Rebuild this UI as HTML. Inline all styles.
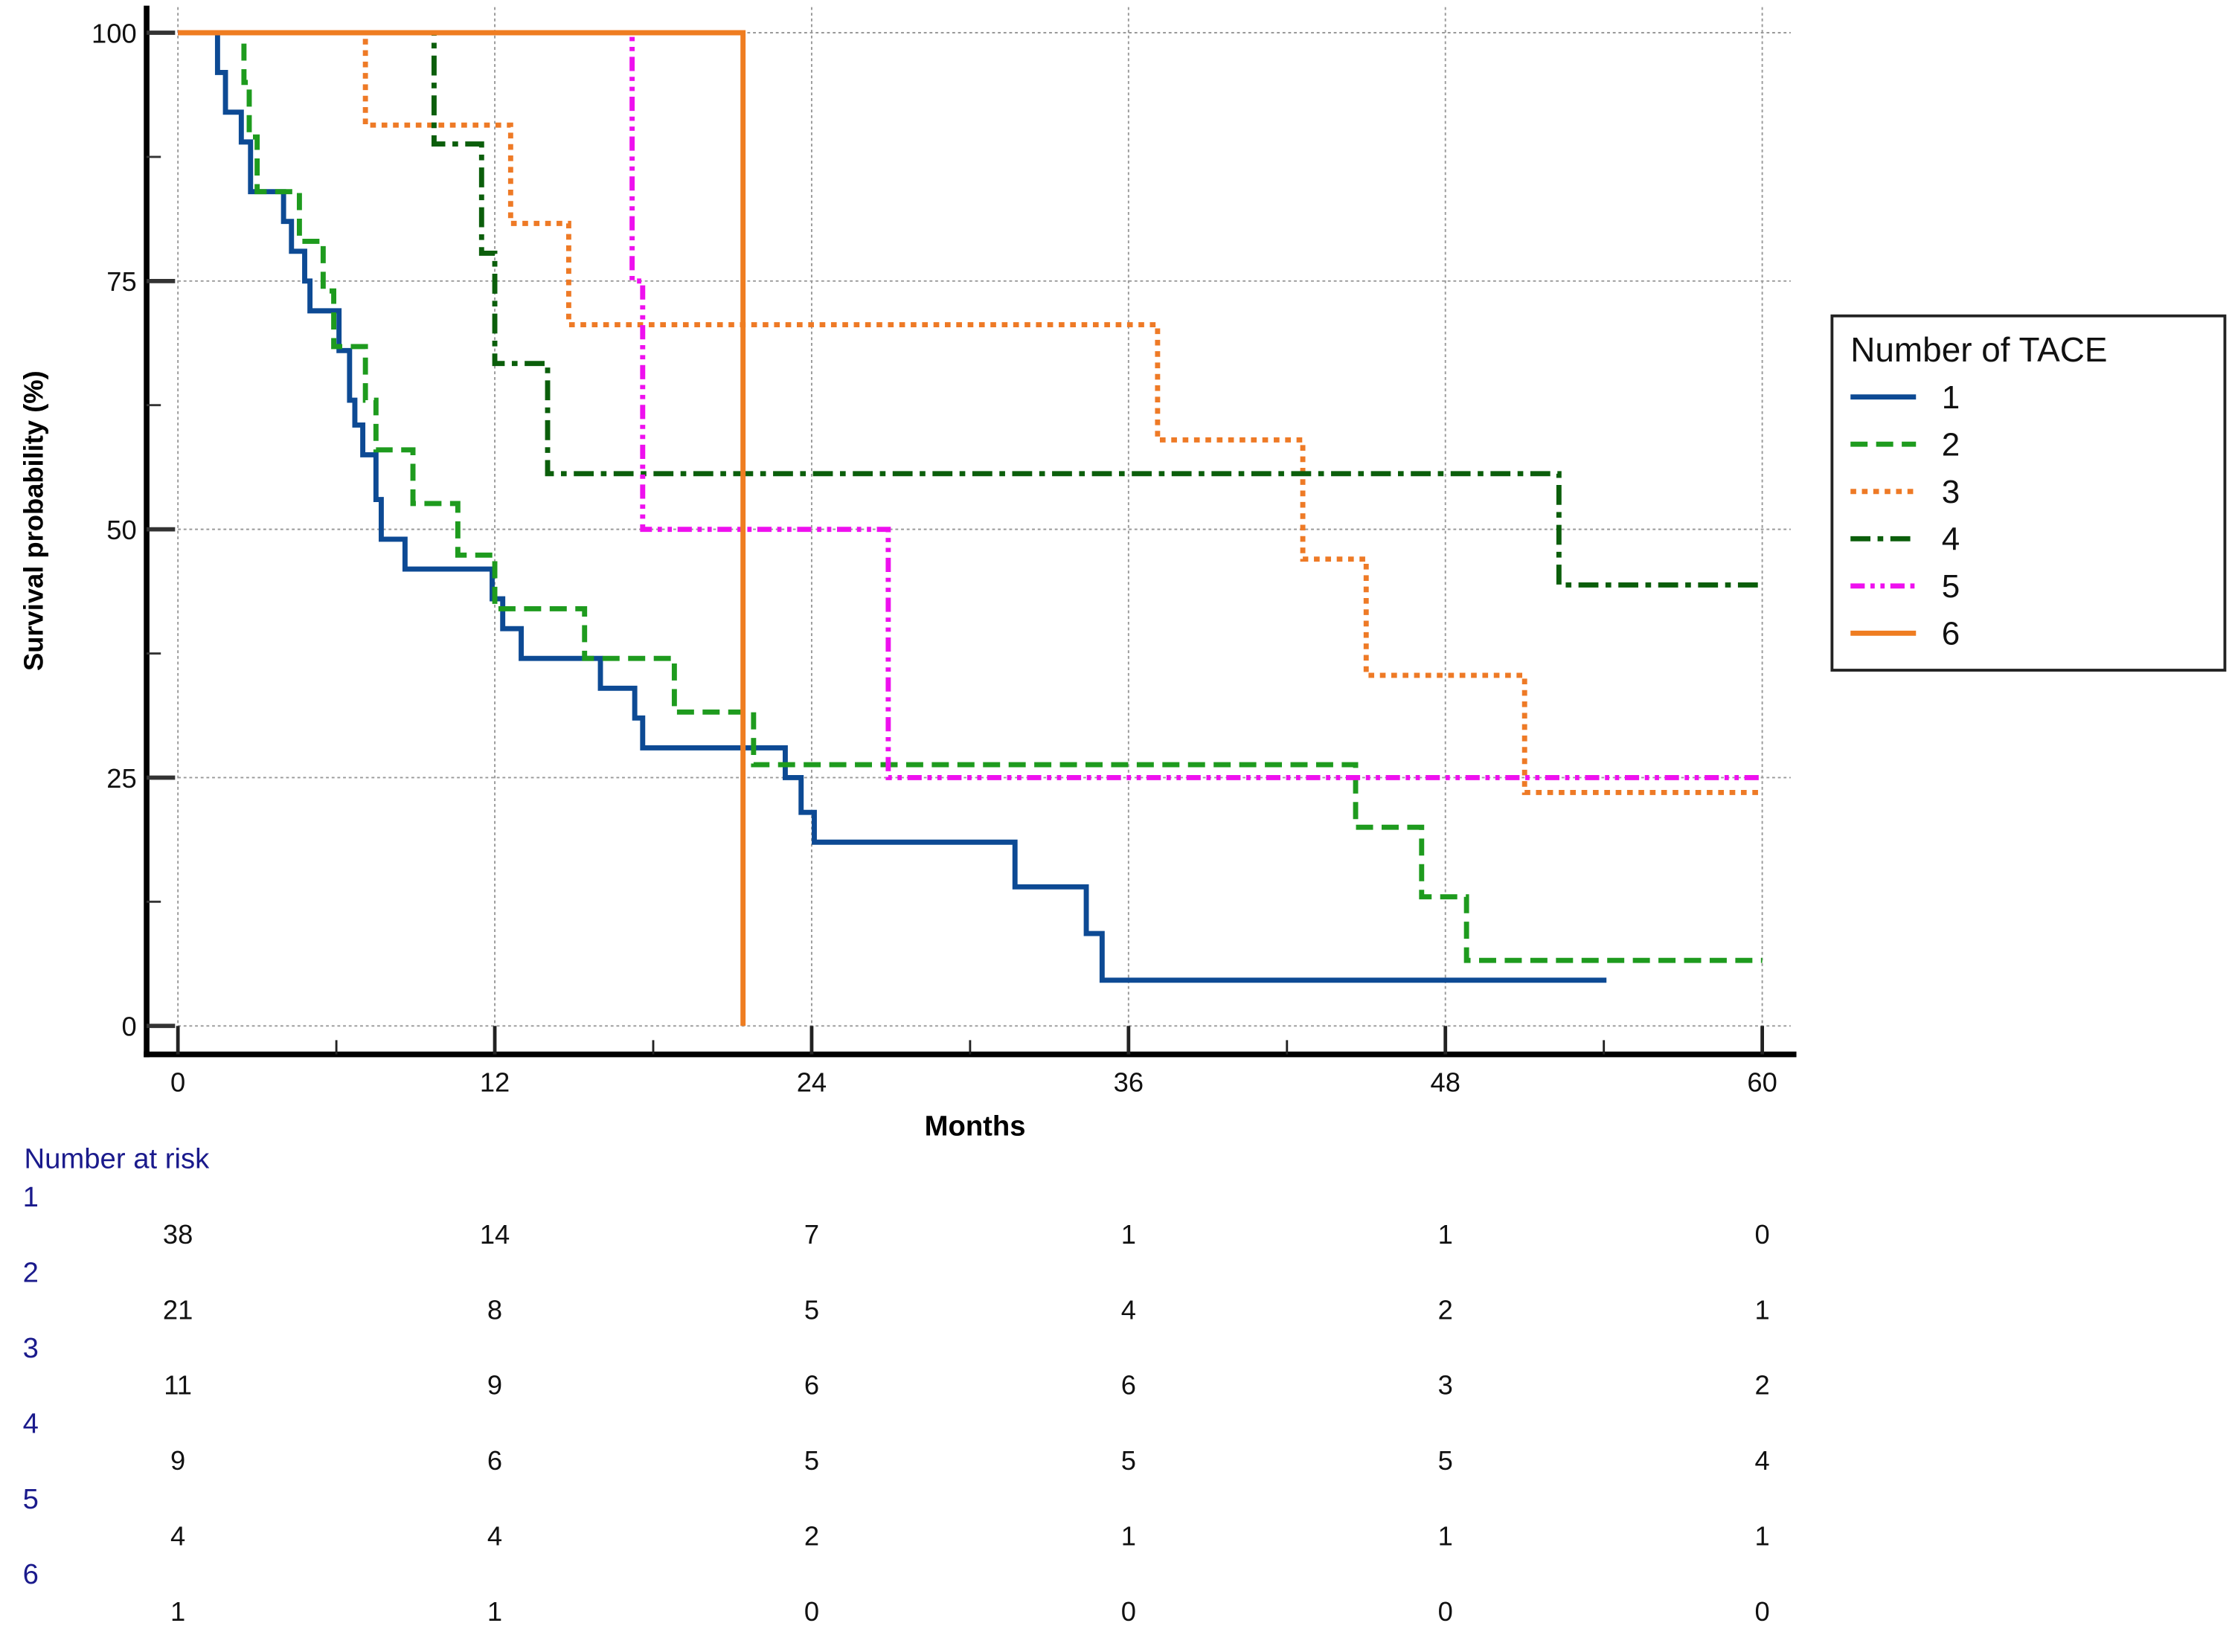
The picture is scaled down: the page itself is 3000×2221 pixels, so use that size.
<!DOCTYPE html>
<html><head><meta charset="utf-8"><style>
html,body{margin:0;padding:0;background:#fff}
svg{display:block}
text{font-family:"Liberation Sans",Arial,sans-serif}
</style></head><body>
<svg id="chart" width="3000" height="2221" viewBox="0 0 1568 1161" preserveAspectRatio="none" xmlns="http://www.w3.org/2000/svg">
<g id="grid"></g>
<g id="curves"></g>
<g id="axes"></g>
<g id="risk"></g>
<g id="legend"></g>
</svg>
<script>
const xTicks=[0,12,24,36,48,60];
const yTicks=[0,25,50,75,100];
const t1=[0,1.5,1.8,2.4,2.75,4.0,4.3,4.8,5.0,6.1,6.5,6.7,7.0,7.5,7.7,8.6,11.9,12.3,13.0,16.0,17.3,17.6,23.0,23.6,24.1,31.7,34.4,35.0];
const s1=[100,96,92,89,84,81,78,75,72,68,63,60.5,57.5,53,49,46,43,40,37,34,31,28,25,21.5,18.5,14,9.3,4.6];
const end1=54.1;
const t2=[0,2.5,2.7,3.0,4.6,5.5,5.9,7.1,7.5,8.9,10.6,12.0,15.4,18.8,21.8,44.6,47.1,48.8];
const s2=[100,95,89.5,84,79,74,68.4,63,58,52.6,47.4,42,37,31.6,26.3,20,13,6.6];
const end2=60;
const t3=[0,7.1,12.6,14.8,37.1,42.6,45.0,51.0];
const s3=[100,90.7,80.8,70.6,59,47,35.3,23.5];
const end3=60;
const t4=[0,9.7,11.5,12.0,14.0,52.3];
const s4=[100,88.8,77.8,66.7,55.6,44.4];
const end4=60;
const t5=[0,17.2,17.6,26.9];
const s5=[100,75,50,25];
const end5=60;
const t6=[0,21.4];
const s6=[100,0];
const end6=21.4;
const groups=["1","2","3","4","5","6"];
const risk1=[38,14,7,1,1,0];
const risk2=[21,8,5,4,2,1];
const risk3=[11,9,6,6,3,2];
const risk4=[9,6,5,5,5,4];
const risk5=[4,4,2,1,1,1];
const risk6=[1,1,0,0,0,0];

const NS="http://www.w3.org/2000/svg";
const X=t=>125+t*(1238-125)/60;
const Y=p=>721-p*6.98;
function mk(tag,attrs,parent){const e=document.createElementNS(NS,tag);for(const k in attrs)e.setAttribute(k,attrs[k]);parent.appendChild(e);return e;}
const grid=document.getElementById('grid'),curves=document.getElementById('curves'),axes=document.getElementById('axes'),risk=document.getElementById('risk'),legend=document.getElementById('legend');

xTicks.forEach(v=>{const l=mk('line',{x1:X(v),x2:X(v),y1:5,y2:721,stroke:'#999','stroke-width':1,'stroke-dasharray':'2,2'},grid);

});
yTicks.forEach(v=>{const l=mk('line',{x1:125,x2:1258,y1:Y(v),y2:Y(v),stroke:'#999','stroke-width':1,'stroke-dasharray':'2,2'},grid);

});

const series=[
 {t:t1,s:s1,e:end1,c:'#0d4a94',d:'',name:'curve-group-1'},
 {t:t2,s:s2,e:end2,c:'#1e9b1e',d:'12,6',name:'curve-group-2'},
 {t:t3,s:s3,e:end3,c:'#ee7a26',d:'4,4',name:'curve-group-3'},
 {t:t4,s:s4,e:end4,c:'#0b5e0b',d:'14,5,4,5',name:'curve-group-4'},
 {t:t5,s:s5,e:end5,c:'#ee10ee',d:'10,4,3,4,3,4',name:'curve-group-5'},
 {t:t6,s:s6,e:end6,c:'#ef7d21',d:'',name:'curve-group-6'}
];
series.forEach(sr=>{let d='M'+X(sr.t[0])+','+Y(sr.s[0]);
 for(let i=1;i<sr.t.length;i++){d+=' H'+X(sr.t[i])+' V'+Y(sr.s[i]);}
 d+=' H'+X(sr.e);
 const p=mk('path',{d:d,fill:'none',stroke:sr.c,'stroke-width':3.6},curves);
 if(sr.d)p.setAttribute('stroke-dasharray',sr.d);
 
 
});

// axes
let a=mk('line',{x1:103,x2:103,y1:4,y2:743,stroke:'#000','stroke-width':4},axes);


a=mk('line',{x1:101,x2:1262,y1:741,y2:741,stroke:'#000','stroke-width':4},axes);


yTicks.forEach(v=>{mk('line',{x1:103,x2:123,y1:Y(v),y2:Y(v),stroke:'#333','stroke-width':3},axes);
 const t=mk('text',{x:96,y:Y(v)+7,'text-anchor':'end','font-size':19,fill:'#111'},axes);t.textContent=v;
 
 
 if(v<100)mk('line',{x1:103,x2:113,y1:Y(v+12.5),y2:Y(v+12.5),stroke:'#333','stroke-width':1.5},axes);
});
xTicks.forEach((v,i)=>{mk('line',{x1:X(v),x2:X(v),y1:721,y2:741,stroke:'#222','stroke-width':2.5},axes);
 const t=mk('text',{x:X(v),y:767,'text-anchor':'middle','font-size':19,fill:'#111'},axes);t.textContent=v;
 
 
 if(i<xTicks.length-1)mk('line',{x1:X(v+6),x2:X(v+6),y1:731,y2:741,stroke:'#222','stroke-width':1.5},axes);
});
let tt=mk('text',{x:685,y:798,'text-anchor':'middle','font-size':20,'font-weight':'bold',fill:'#000'},axes);tt.textContent='Months';


tt=mk('text',{x:0,y:0,'text-anchor':'middle','font-size':19,'font-weight':'bold',fill:'#000',transform:'translate(30,366) rotate(-90)'},axes);tt.textContent='Survival probability (%)';



// risk table
tt=mk('text',{x:17,y:821,'font-size':20,fill:'#1a1a8c'},risk);tt.textContent='Number at risk';


const rows=[risk1,risk2,risk3,risk4,risk5,risk6];
rows.forEach((r,k)=>{const g=mk('text',{x:16,y:848+53*k,'font-size':20,fill:'#1a1a8c'},risk);g.textContent=groups[k];
 
 
 r.forEach((v,i)=>{const c=mk('text',{x:X(xTicks[i]),y:874+53*k,'text-anchor':'middle','font-size':19,fill:'#111'},risk);c.textContent=v;
  
  });
});

// legend
let b=mk('rect',{x:1287,y:222,width:276,height:249,fill:'#fff',stroke:'#222','stroke-width':2},legend);


tt=mk('text',{x:1300,y:254,'font-size':24,fill:'#111'},legend);tt.textContent='Number of TACE';


series.forEach((sr,k)=>{const yy=279+33.2*k;
 const l=mk('line',{x1:1300,x2:1346,y1:yy,y2:yy,stroke:sr.c,'stroke-width':3.6},legend);
 if(sr.d)l.setAttribute('stroke-dasharray',sr.d);
 
 
 const t=mk('text',{x:1364,y:yy+8,'font-size':23,fill:'#111'},legend);t.textContent=groups[k];
 
 
});
</script>
</body></html>
